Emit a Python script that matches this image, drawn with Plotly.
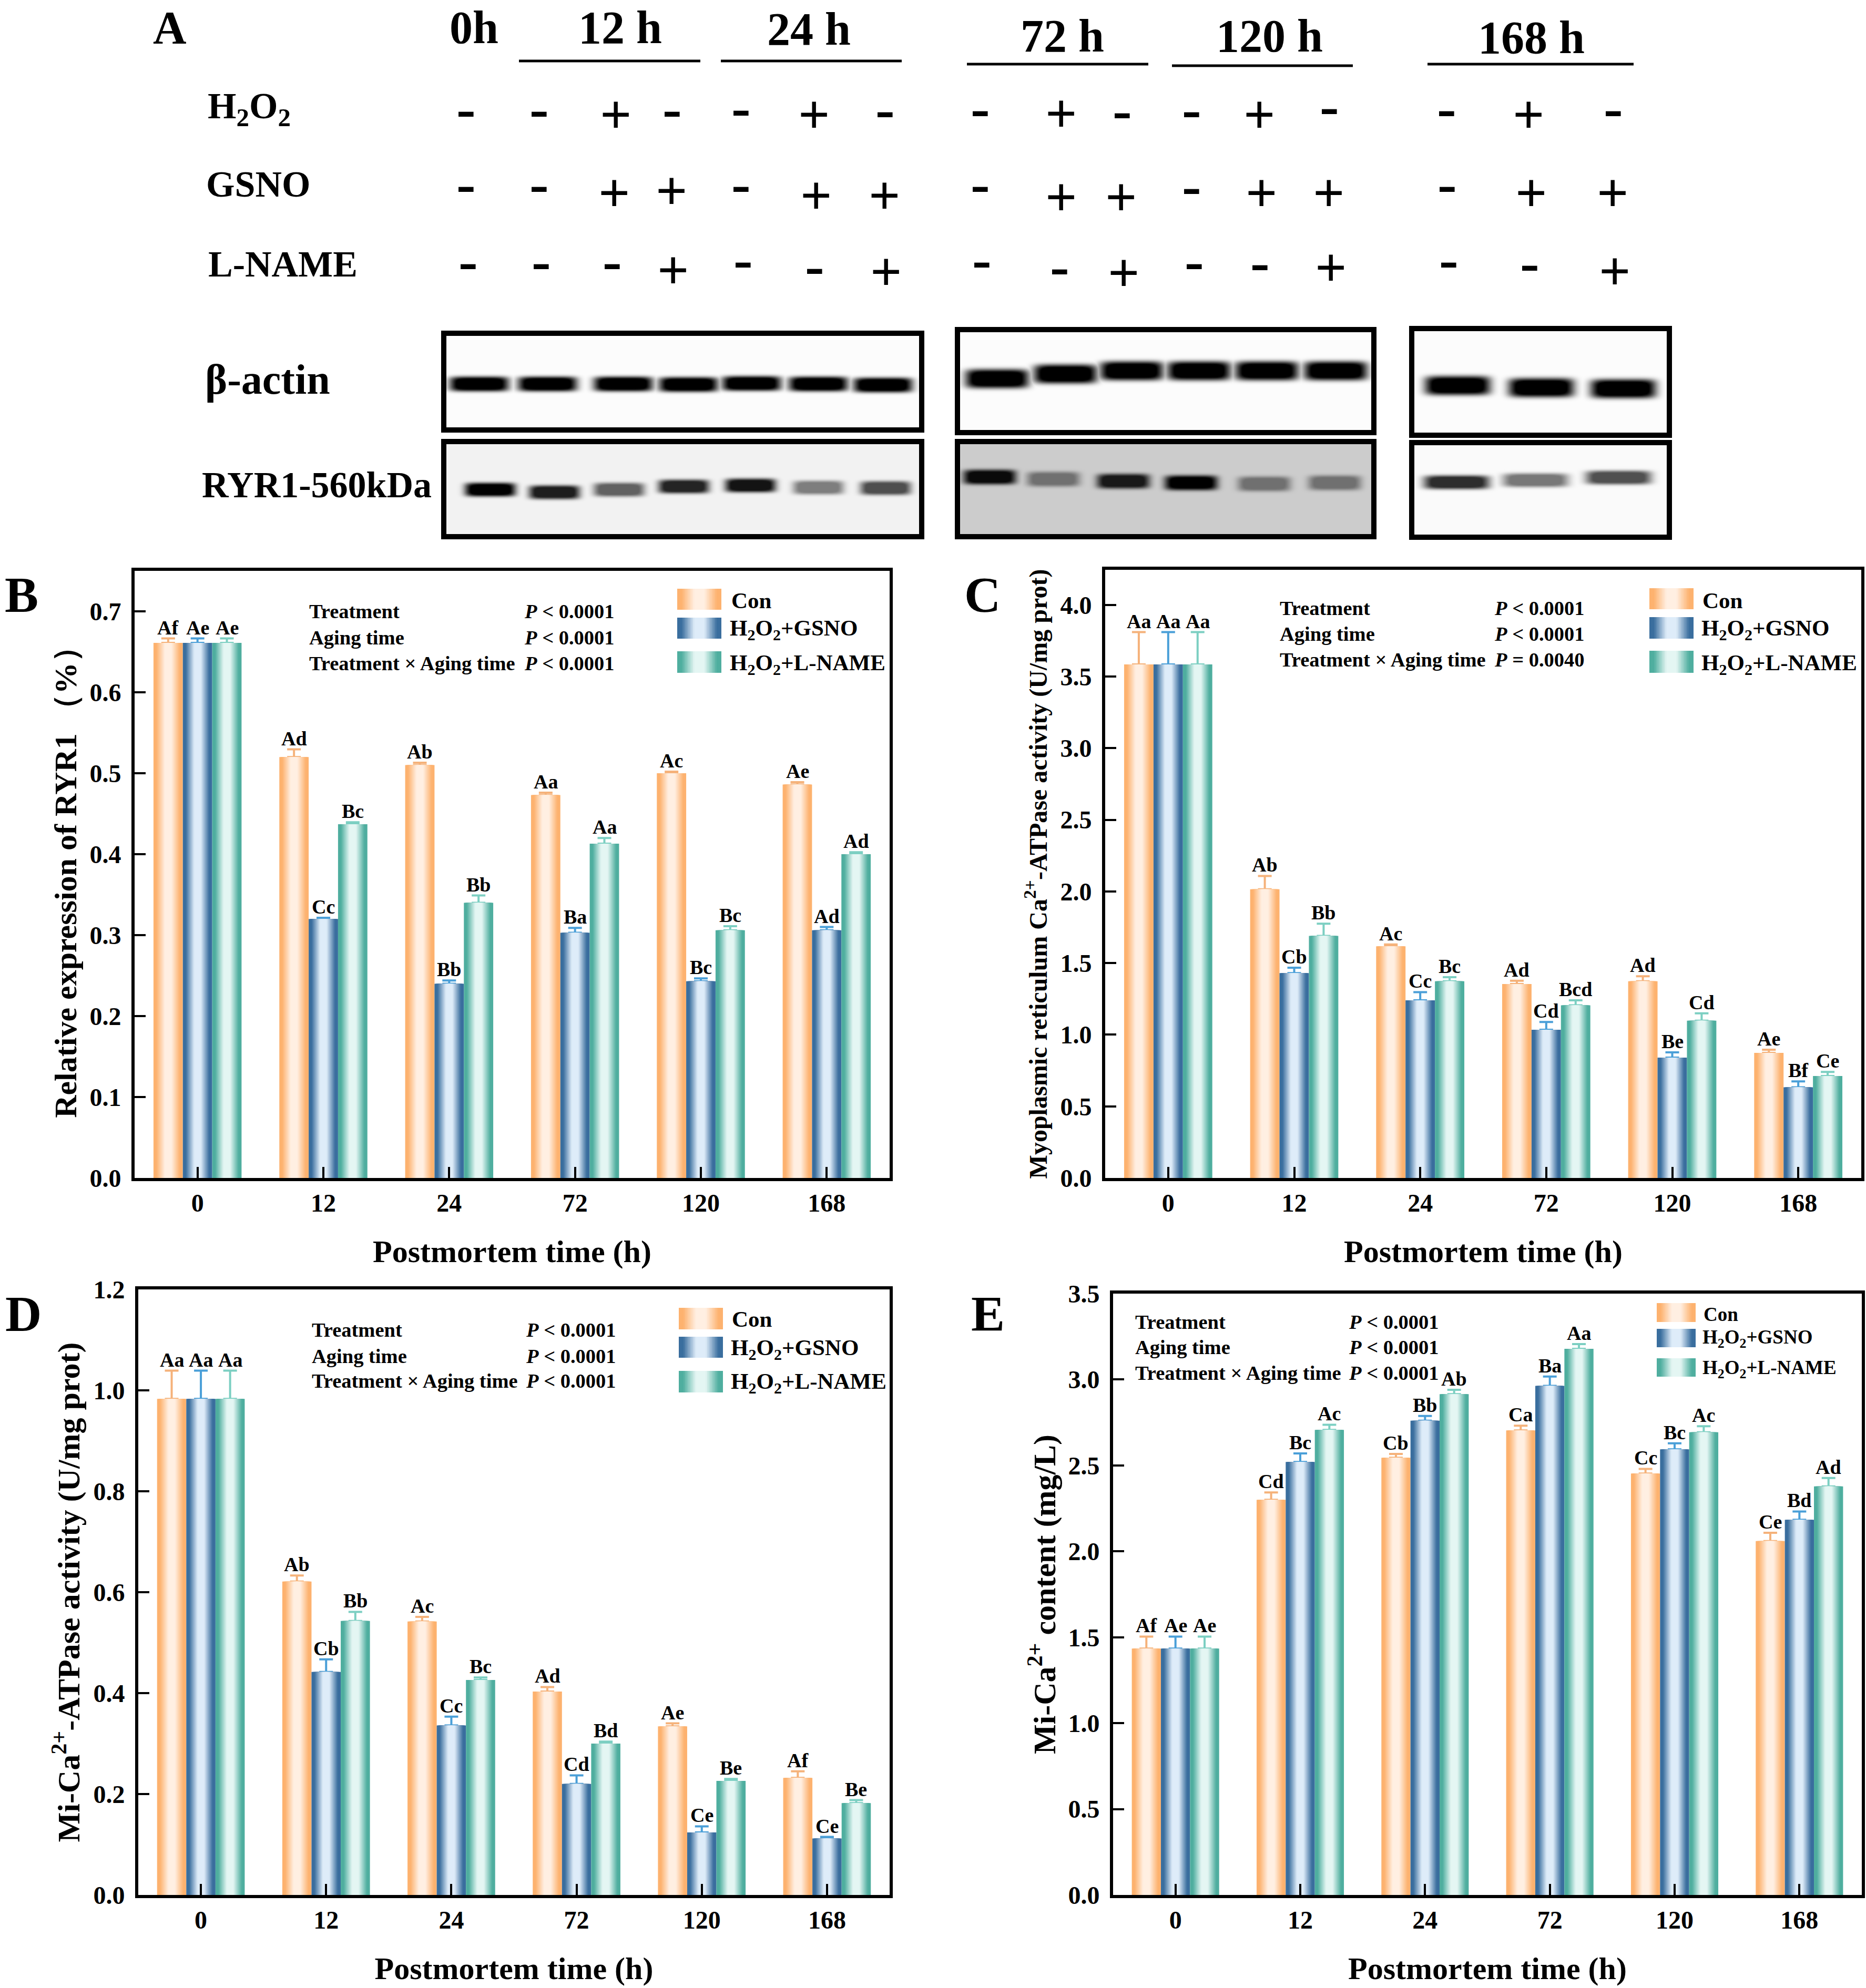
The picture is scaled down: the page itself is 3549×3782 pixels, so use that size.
import numpy as np
import plotly.graph_objects as go

W, H = 3549, 3782
FONT = "Liberation Serif"
CATS = ["0", "12", "24", "72", "120", "168"]

# ---------- panel B
B_CON = [0.661, 0.520, 0.510, 0.473, 0.500, 0.486]
B_GSNO = [0.661, 0.320, 0.240, 0.303, 0.243, 0.306]
B_LNAME = [0.661, 0.437, 0.340, 0.413, 0.306, 0.400]
B_CON_UP = [0.6665, 0.5295, 0.513, 0.476, 0.502, 0.489]
B_GSNO_UP = [0.6665, 0.3215, 0.244, 0.309, 0.2466, 0.310]
B_LNAME_UP = [0.6665, 0.4395, 0.349, 0.420, 0.311, 0.4025]
B_CON_L = ["Af", "Ad", "Ab", "Aa", "Ac", "Ae"]
B_GSNO_L = ["Ae", "Cc", "Bb", "Ba", "Bc", "Ad"]
B_LNAME_L = ["Ae", "Bc", "Bb", "Aa", "Bc", "Ad"]
# ---------- panel C
C_CON = [3.585, 2.015, 1.617, 1.354, 1.373, 0.873]
C_GSNO = [3.585, 1.430, 1.240, 1.035, 0.840, 0.633]
C_LNAME = [3.585, 1.690, 1.373, 1.205, 1.098, 0.712]
C_CON_UP = [3.81, 2.108, 1.630, 1.377, 1.408, 0.895]
C_GSNO_UP = [3.81, 1.468, 1.297, 1.089, 0.877, 0.674]
C_LNAME_UP = [3.81, 1.775, 1.402, 1.240, 1.149, 0.740]
C_CON_L = ["Aa", "Ab", "Ac", "Ad", "Ad", "Ae"]
C_GSNO_L = ["Aa", "Cb", "Cc", "Cd", "Be", "Bf"]
C_LNAME_L = ["Aa", "Bb", "Bc", "Bcd", "Cd", "Ce"]
# ---------- panel D
D_CON = [0.983, 0.621, 0.542, 0.403, 0.334, 0.232]
D_GSNO = [0.983, 0.442, 0.336, 0.220, 0.124, 0.112]
D_LNAME = [0.983, 0.543, 0.426, 0.300, 0.226, 0.182]
D_CON_UP = [1.039, 0.633, 0.551, 0.412, 0.340, 0.245]
D_GSNO_UP = [1.039, 0.467, 0.3535, 0.237, 0.136, 0.115]
D_LNAME_UP = [1.039, 0.561, 0.431, 0.304, 0.230, 0.188]
D_CON_L = ["Aa", "Ab", "Ac", "Ad", "Ae", "Af"]
D_GSNO_L = ["Aa", "Cb", "Cc", "Cd", "Ce", "Ce"]
D_LNAME_L = ["Aa", "Bb", "Bc", "Bd", "Be", "Be"]
# ---------- panel E
E_CON = [1.434, 2.300, 2.545, 2.704, 2.453, 2.060]
E_GSNO = [1.434, 2.520, 2.760, 2.963, 2.594, 2.184]
E_LNAME = [1.434, 2.707, 2.915, 3.179, 2.693, 2.378]
E_CON_UP = [1.504, 2.343, 2.567, 2.731, 2.480, 2.108]
E_GSNO_UP = [1.504, 2.570, 2.788, 3.017, 2.629, 2.232]
E_LNAME_UP = [1.504, 2.737, 2.940, 3.206, 2.728, 2.427]
E_CON_L = ["Af", "Cd", "Cb", "Ca", "Cc", "Ce"]
E_GSNO_L = ["Ae", "Bc", "Bb", "Ba", "Bc", "Bd"]
E_LNAME_L = ["Ae", "Ac", "Ab", "Aa", "Ac", "Ad"]

SERIES_NAMES = ["Con", "H<sub>2</sub>O<sub>2</sub>+GSNO", "H<sub>2</sub>O<sub>2</sub>+L-NAME"]
EDGE = [(253, 178, 111), (58, 110, 158), (79, 174, 159)]
CENTRE = [(255, 239, 226), (222, 236, 249), (228, 246, 243)]
ERR = ["#F5B27A", "#4A9FD8", "#7CCFC2"]

# ---------- panel A content
ROW_NAMES = ["H<sub>2</sub>O<sub>2</sub>", "GSNO", "L-NAME"]
ROW_LABEL_XY = [(393, 207), (390, 350), (394, 502)]
TIME_LABELS = ["0h", "12 h", "24 h", "72 h", "120 h", "168 h"]
TIME_XY = [(901, 52), (1179, 52), (1538, 55), (2020, 68), (2414, 68), (2912, 71)]
TIME_RULES = [(987, 1332, 116), (1371, 1715, 116), (1839, 2184, 122), (2229, 2573, 125), (2715, 3107, 122)]
SIGNS = [
    ["-", "-", "+", "-", "-", "+", "-", "-", "+", "-", "-", "+", "-", "-", "+", "-"],
    ["-", "-", "+", "+", "-", "+", "+", "-", "+", "+", "-", "+", "+", "-", "+", "+"],
    ["-", "-", "-", "+", "-", "-", "+", "-", "-", "+", "-", "-", "+", "-", "-", "+"],
]
SIGN_X = [
    [886, 1025, 1171, 1278, 1409, 1548, 1683, 1864, 2018, 2134, 2266, 2395, 2528, 2751, 2907, 3068],
    [886, 1025, 1168, 1277, 1409, 1552, 1682, 1864, 2018, 2132, 2266, 2399, 2527, 2752, 2912, 3067],
    [890, 1029, 1164, 1280, 1413, 1549, 1685, 1867, 2015, 2137, 2271, 2396, 2531, 2755, 2909, 3071],
]
SIGN_Y = [
    [215, 215, 218, 215, 213, 218, 216, 214, 216, 218, 216, 218, 210, 214, 218, 214],
    [358, 358, 367, 363, 358, 372, 372, 358, 375, 375, 362, 367, 367, 358, 367, 367],
    [505, 505, 505, 514, 502, 514, 517, 502, 515, 519, 505, 507, 509, 502, 508, 516],
]
BLOTS = [
    dict(box=(844, 634, 1753, 818), bg=0.99,
         x=[911, 1041, 1185, 1309, 1429, 1556, 1679], y=[730, 730, 730, 731, 729, 730, 732],
         i=[1, 1, 1, 1, 1, 1, 1], hw=56, ht=14),
    dict(box=(844, 840, 1753, 1021), bg=0.95,
         x=[932, 1054, 1177, 1300, 1427, 1556, 1684], y=[931, 936, 931, 925, 923, 927, 928],
         i=[1.0, 0.88, 0.6, 0.85, 0.92, 0.48, 0.68], hw=48, ht=13),
    dict(box=(1821, 627, 2613, 823), bg=0.99,
         x=[1896, 2026, 2152, 2280, 2409, 2540], y=[720, 711, 705, 705, 705, 705],
         i=[1, 1, 1, 1, 1, 1], hw=60, ht=18),
    dict(box=(1821, 840, 2613, 1021), bg=0.80,
         x=[1882, 2003, 2136, 2265, 2404, 2538], y=[907, 911, 915, 918, 920, 918],
         i=[0.95, 0.45, 0.88, 1.0, 0.45, 0.45], hw=50, ht=14),
    dict(box=(2685, 625, 3175, 828), bg=0.99,
         x=[2772, 2931, 3087], y=[733, 737, 739],
         i=[1, 1, 1], hw=62, ht=18),
    dict(box=(2685, 842, 3175, 1022), bg=0.98,
         x=[2770, 2920, 3078], y=[917, 913, 908],
         i=[0.82, 0.52, 0.68], hw=62, ht=13),
]
BLOT_NAMES = [("β-actin", 388, 722, 80), ("RYR1-560kDa", 382, 922, 70)]

# ---------- geometry of the bar panels (pixels)
PANELS = [
    dict(k="x2", ky="y2", x=(256, 1692), y=(1086, 2241), ymax=0.75, dt=0.1, tmax=0.7,
         vals=(B_CON, B_GSNO, B_LNAME), ups=(B_CON_UP, B_GSNO_UP, B_LNAME_UP), labs=(B_CON_L, B_GSNO_L, B_LNAME_L),
         ytitle="Relative expression of RYR1 （%）", tsize=60, tstand=7, letter=("B", 41, 1131),
         stat=(586, 995, [1163, 1213, 1262]), p3="<i>P</i> &lt; 0.0001",
         swx=(1288, 1372), swy=[(1120, 1160), (1175, 1215), (1239, 1280)], lx=[1389, 1386, 1386], ly=[1142, 1198, 1264], lf=43),
    dict(k="x3", ky="y3", x=(2102, 3540), y=(1084, 2241), ymax=4.245, dt=0.5, tmax=4.0,
         vals=(C_CON, C_GSNO, C_LNAME), ups=(C_CON_UP, C_GSNO_UP, C_LNAME_UP), labs=(C_CON_L, C_GSNO_L, C_LNAME_L),
         ytitle="Myoplasmic reticulum Ca<sup>2+</sup>-ATPase activity (U/mg prot)", tsize=48, tstand=12, letter=("C", 1868, 1131),
         stat=(2432, 2840, [1157, 1206, 1255]), p3="<i>P</i> = 0.0040",
         swx=(3137, 3221), swy=[(1119, 1159), (1174, 1215), (1238, 1280)], lx=[3236, 3234, 3234], ly=[1142, 1198, 1264], lf=43),
    dict(k="x4", ky="y4", x=(263, 1692), y=(2453, 3605), ymax=1.2, dt=0.2, tmax=1.2,
         vals=(D_CON, D_GSNO, D_LNAME), ups=(D_CON_UP, D_GSNO_UP, D_LNAME_UP), labs=(D_CON_L, D_GSNO_L, D_LNAME_L),
         ytitle="Mi-Ca<sup>2+</sup>-ATPase activity (U/mg prot)", tsize=60, tstand=8, letter=("D", 44, 2499),
         stat=(591, 998, [2530, 2580, 2627]), p3="<i>P</i> &lt; 0.0001",
         swx=(1291, 1375), swy=[(2488, 2529), (2543, 2583), (2608, 2649)], lx=[1390, 1388, 1388], ly=[2509, 2567, 2631], lf=43),
    dict(k="x5", ky="y5", x=(2117, 3541), y=(2461, 3605), ymax=3.5, dt=0.5, tmax=3.5,
         vals=(E_CON, E_GSNO, E_LNAME), ups=(E_CON_UP, E_GSNO_UP, E_LNAME_UP), labs=(E_CON_L, E_GSNO_L, E_LNAME_L),
         ytitle="Mi-Ca<sup>2+</sup> content (mg/L)", tsize=60, tstand=6, letter=("E", 1879, 2499),
         stat=(2157, 2563, [2515, 2563, 2612]), p3="<i>P</i> &lt; 0.0001",
         swx=(3151, 3225), swy=[(2479, 2515), (2528, 2563), (2584, 2619)], lx=[3238, 3236, 3236], ly=[2500, 2546, 2604], lf=37),
]

BAR_W = 0.2333
STEPS = 14


def mix(a, b, t):
    return "rgb(%d,%d,%d)" % tuple(round(a[i] + (b[i] - a[i]) * t) for i in range(3))


def shade(k):
    """colour of nested layer k: flat rim, fading to a pale core"""
    d = k / (STEPS - 1)
    return min(max((d - 0.18) / 0.62, 0.0), 1.0)


fig = go.Figure()
shapes, annos = [], []


def px_note(text, x, y, size, xanchor="left", bold=True, color="black", angle=None):
    annos.append(dict(text=f"<b>{text}</b>" if bold else text, x=x, y=y, xref="x", yref="y",
                      xanchor=xanchor, yanchor="middle", showarrow=False,
                      font=dict(family=FONT, size=size, color=color), textangle=angle or 0))


# ---------- blots (drawn first, on a full-page pixel axis)
for b in BLOTS:
    x0, y0, x1, y1 = b["box"]
    xs = np.arange(x0, x1 + 1, 2.0)
    ys = np.arange(y0, y1 + 1, 2.0)
    X, Y = np.meshgrid(xs, ys)
    dark = np.zeros_like(X)
    for cx, cy, i in zip(b["x"], b["y"], b["i"]):
        a = np.exp(-np.abs((X - cx) / b["hw"]) ** 6) * np.exp(-np.abs((Y - cy) / b["ht"]) ** 4)
        dark = np.maximum(dark, np.clip(a * 1.25, 0, 1) * i)
    z = b["bg"] * (1 - dark)
    fig.add_trace(go.Heatmap(z=z, x=xs, y=ys, xaxis="x", yaxis="y", zmin=0, zmax=1, zsmooth="best",
                             colorscale=[[0, "black"], [1, "white"]], showscale=False, hoverinfo="skip"))
    shapes.append(dict(type="rect", xref="x", yref="y", x0=x0, x1=x1, y0=y0, y1=y1,
                       line=dict(color="black", width=10), layer="above"))

px_note("A", 323, 52, 88, "center")
for t, (x, y) in zip(TIME_LABELS, TIME_XY):
    px_note(t, x, y, 88, "center")
for x0, x1, y in TIME_RULES:
    shapes.append(dict(type="line", xref="x", yref="y", x0=x0, x1=x1, y0=y, y1=y, line=dict(color="black", width=5)))
for name, (x, y) in zip(ROW_NAMES, ROW_LABEL_XY):
    px_note(name, x, y, 70)
for name, x, y, size in BLOT_NAMES:
    px_note(name, x, y, size)
for r in range(3):
    for s, x, y in zip(SIGNS[r], SIGN_X[r], SIGN_Y[r]):
        px_note(s, x, y if s == "+" else y - 9, 106 if s == "+" else 110, "center")

# ---------- bar panels
layout_axes = {
    "xaxis": dict(domain=[0, 1], range=[0, W], visible=False, fixedrange=True),
    "yaxis": dict(domain=[0, 1], range=[H, 0], visible=False, fixedrange=True),
}
for p in PANELS:
    xa, ya = p["k"], p["ky"]
    for s in range(3):
        centre = (s - 1) * BAR_W
        ups = np.array(p["ups"][s])
        vals = np.array(p["vals"][s])
        for k in range(STEPS):
            w = BAR_W * (1 - k / STEPS)
            tr = dict(x=CATS, y=p["vals"][s], xaxis=xa, yaxis=ya, width=w, offset=centre - w / 2,
                      marker=dict(color=mix(EDGE[s], CENTRE[s], shade(k)), line=dict(width=0)),
                      showlegend=False, name=SERIES_NAMES[s].replace("<sub>", "").replace("</sub>", ""),
                      hoverinfo="skip" if k else None)
            if k == 0:
                tr["error_y"] = dict(type="data", symmetric=False, array=list(ups - vals),
                                     arrayminus=[0] * len(vals), color=ERR[s], thickness=4, width=13)
            fig.add_trace(go.Bar(**tr))
        for i, lab in enumerate(p["labs"][s]):
            annos.append(dict(text=f"<b>{lab}</b>", x=i + centre, y=p["ups"][s][i], xref=xa, yref=ya,
                              xanchor="center", yanchor="bottom", yshift=-2, showarrow=False,
                              font=dict(family=FONT, size=38, color="black")))
        # legend key
        x0, x1 = p["swx"]
        y0, y1 = p["swy"][s]
        for k in range(STEPS):
            inset = (x1 - x0) / 2 * k / STEPS
            shapes.append(dict(type="rect", xref="x", yref="y", x0=x0 + inset, x1=x1 - inset, y0=y0, y1=y1,
                               line=dict(width=0), fillcolor=mix(EDGE[s], CENTRE[s], shade(k))))
        px_note(SERIES_NAMES[s], p["lx"][s], p["ly"][s], p["lf"])

    # significance-table text
    sx, px, sy = p["stat"]
    for txt, y in zip(["Treatment", "Aging time", "Treatment × Aging time"], sy):
        px_note(txt, sx, y, 38.5)
    px_note("<i>P</i> &lt; 0.0001", px, sy[0], 38.5)
    px_note("<i>P</i> &lt; 0.0001", px, sy[1], 38.5)
    px_note(p["p3"], px, sy[2], 38.5)
    px_note(p["letter"][0], p["letter"][1], p["letter"][2], 96, "center")

    tickvals = [round(v, 3) for v in np.arange(0, p["tmax"] + 1e-9, p["dt"])]
    base = dict(showline=True, linecolor="black", linewidth=6, mirror=True, ticks="inside", tickcolor="black",
                tickwidth=4, ticklen=21, showgrid=False, zeroline=False, fixedrange=True,
                tickfont=dict(family=FONT, size=48, color="black", weight="bold"))
    layout_axes[xa.replace("x", "xaxis")] = dict(
        base, domain=[p["x"][0] / W, p["x"][1] / W], anchor=ya, type="category", range=[-0.5, 5.5],
        categoryorder="array", categoryarray=CATS, ticklabelstandoff=0,
        title=dict(text="<b>Postmortem time (h)</b>", font=dict(family=FONT, size=60, color="black"), standoff=47))
    layout_axes[ya.replace("y", "yaxis")] = dict(
        base, domain=[1 - p["y"][1] / H, 1 - p["y"][0] / H], anchor=xa, range=[0, p["ymax"]],
        tickvals=tickvals, tickformat=".1f", ticklabelstandoff=10,
        title=dict(text=f"<b>{p['ytitle']}</b>", font=dict(family=FONT, size=p["tsize"], color="black"), standoff=p["tstand"]))

fig.update_layout(width=W, height=H, margin=dict(l=0, r=0, t=0, b=0, autoexpand=False), barmode="overlay",
                  paper_bgcolor="white", plot_bgcolor="white", showlegend=False,
                  shapes=shapes, annotations=annos, **layout_axes)
fig.write_html("out.html", config=dict(displayModeBar=False),
               post_script="document.body.style.margin='0';")
